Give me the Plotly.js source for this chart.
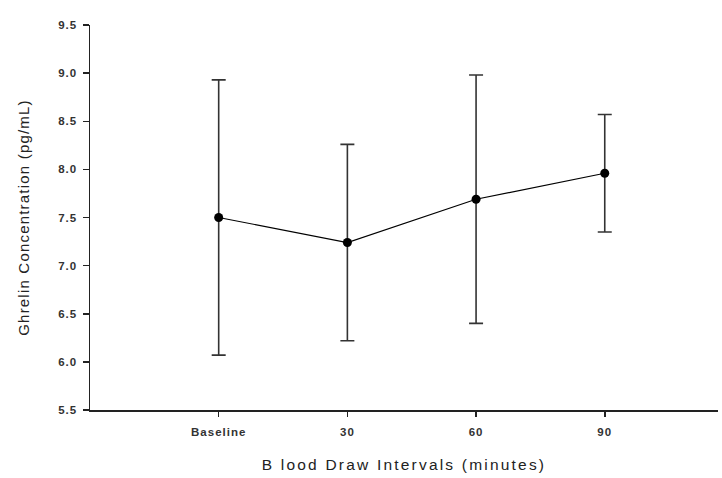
<!DOCTYPE html>
<html>
<head>
<meta charset="utf-8">
<script src="https://cdn.plot.ly/plotly-3.0.1.min.js"></script>
<style>
  html, body { margin: 0; padding: 0; background: #fff; }
  #chart { width: 722px; height: 478px; }
  /* wide, blocky letterforms for all axis text */
  #chart .xtick text, #chart .ytick text { letter-spacing: 1px; }
  #chart .g-xtitle text { letter-spacing: 2.2px; }
  #chart .g-ytitle text { letter-spacing: 1.2px; }
</style>
</head>
<body>
<div id="chart"></div>
<script>
// Blood draw intervals and mean ghrelin concentration with error bars
const intervals = ["Baseline", "30", "60", "90"];
const ghrelinMean = [7.50, 7.24, 7.69, 7.96];
const ghrelinErr = [1.43, 1.02, 1.29, 0.61];
const yTickValues = [5.5, 6.0, 6.5, 7.0, 7.5, 8.0, 8.5, 9.0, 9.5];
const yTickLabels = ["5.5", "6.0", "6.5", "7.0", "7.5", "8.0", "8.5", "9.0", "9.5"];

const xPos = intervals.map((_, i) => i);

const trace = {
  x: xPos,
  y: ghrelinMean,
  type: "scatter",
  mode: "lines+markers",
  line: { color: "#000", width: 1.2 },
  marker: { color: "#000", size: 9 },
  error_y: {
    type: "data",
    array: ghrelinErr,
    visible: true,
    color: "#333",
    thickness: 1.6,
    width: 7
  },
  hoverinfo: "skip",
  showlegend: false
};

const tickFont = { family: "Liberation Sans, Arial, sans-serif", size: 11.5, color: "#333", weight: "bold" };

const layout = {
  width: 722,
  height: 478,
  margin: { l: 90, r: 4, t: 25, b: 68 },
  paper_bgcolor: "#fff",
  plot_bgcolor: "#fff",
  xaxis: {
    range: [-1, 3.88],
    tickvals: xPos,
    ticktext: intervals,
    showgrid: false,
    zeroline: false,
    showline: true,
    linecolor: "#222",
    linewidth: 1.5,
    ticks: "outside",
    ticklen: 5,
    tickwidth: 1.5,
    tickcolor: "#222",
    tickfont: tickFont,
    ticklabelstandoff: 6,
    title: {
      text: "B lood Draw Intervals (minutes)",
      font: { family: "Liberation Sans, Arial, sans-serif", size: 15.5, color: "#222" },
      standoff: 22
    }
  },
  yaxis: {
    range: [5.5, 9.5],
    tickvals: yTickValues,
    ticktext: yTickLabels,
    showgrid: false,
    zeroline: false,
    showline: true,
    linecolor: "#222",
    linewidth: 1.5,
    ticks: "outside",
    ticklen: 6,
    tickwidth: 1.5,
    tickcolor: "#222",
    tickfont: tickFont,
    ticklabelstandoff: 3,
    title: {
      text: "Ghrelin Concentration (pg/mL)",
      font: { family: "Liberation Sans, Arial, sans-serif", size: 15, color: "#222" },
      standoff: 28
    }
  }
};

Plotly.newPlot("chart", [trace], layout, { staticPlot: true, displayModeBar: false });
</script>
</body>
</html>
